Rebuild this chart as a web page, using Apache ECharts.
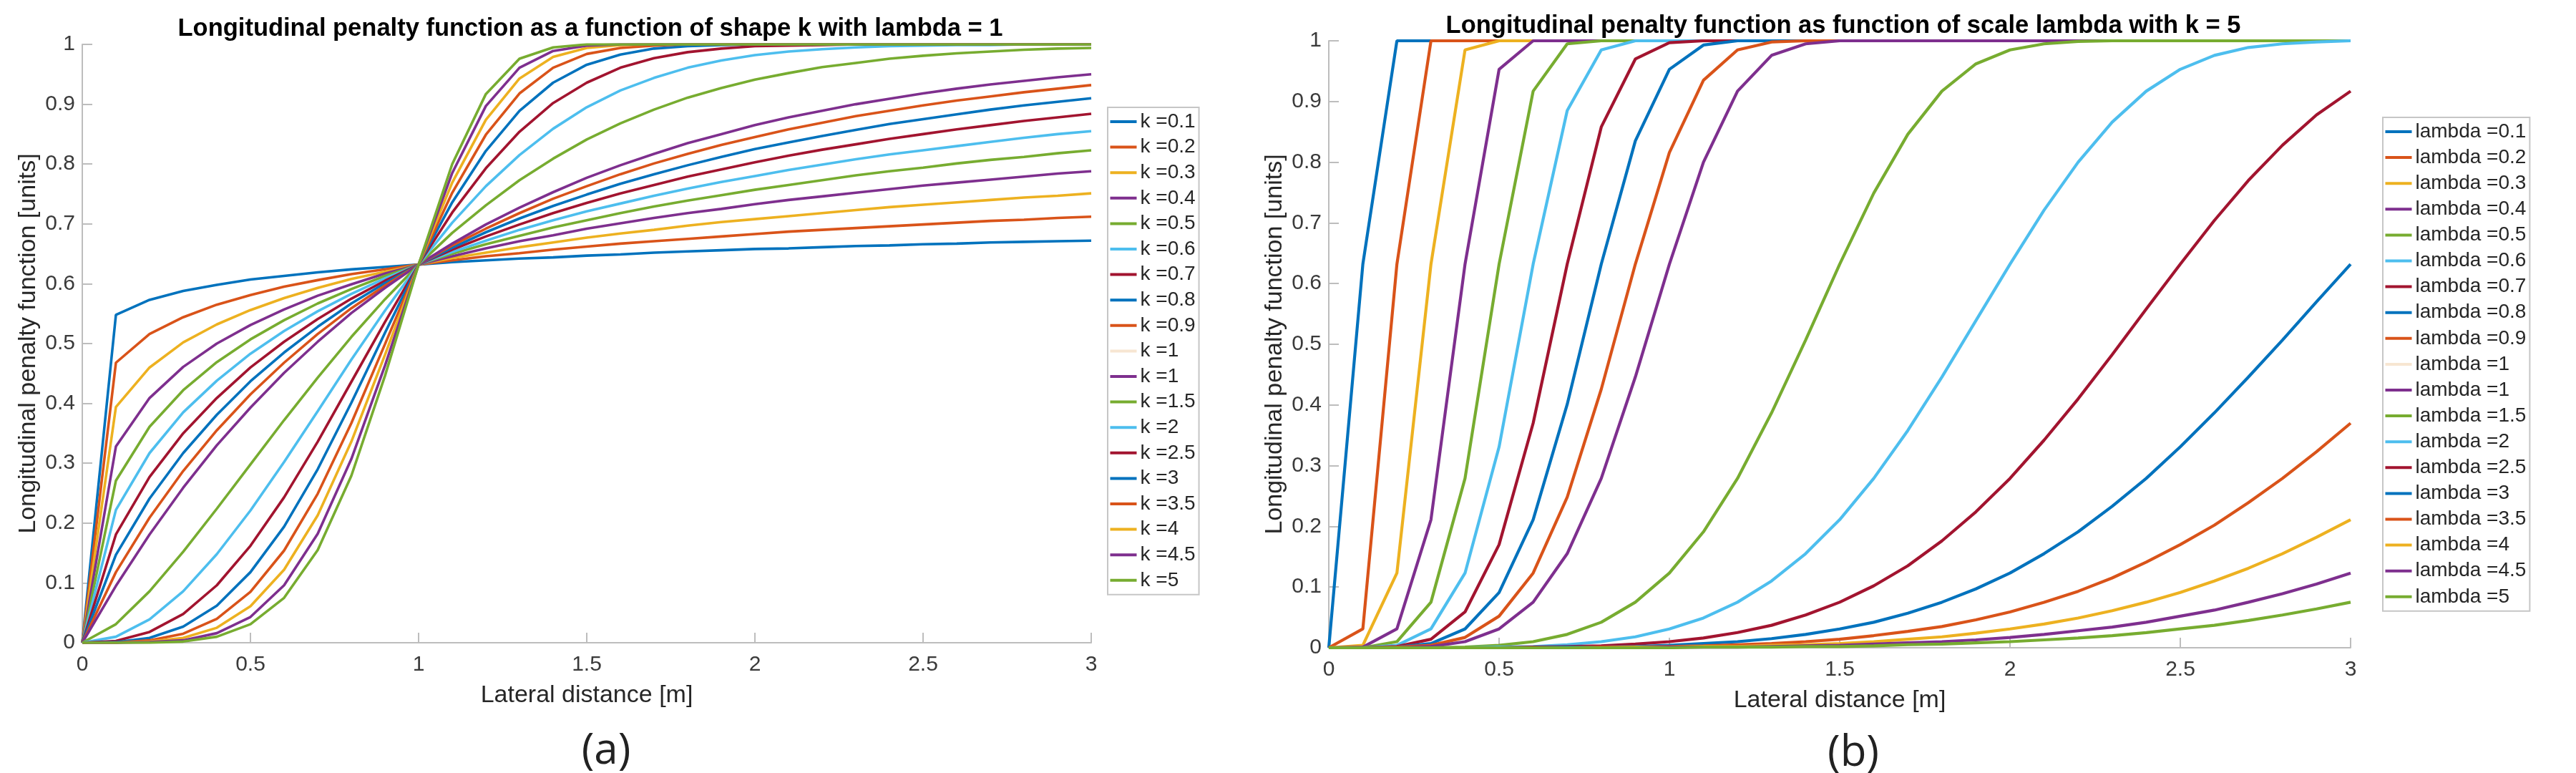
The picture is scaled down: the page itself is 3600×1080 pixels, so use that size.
<!DOCTYPE html>
<html>
<head>
<meta charset="utf-8">
<title>Longitudinal penalty function</title>
<script src="https://cdn.jsdelivr.net/npm/echarts@6/dist/echarts.min.js"></script>
<style>
  html, body { margin: 0; padding: 0; background: #fff; }
  #chart { width: 3600px; height: 1080px; }
</style>
</head>
<body>
<div id="chart"></div>
<script>
// lateral distance samples [m]
var xs = [0, 0.1, 0.2, 0.3, 0.4, 0.5, 0.6, 0.7, 0.8, 0.9, 1.0,
          1.1, 1.2, 1.3, 1.4, 1.5, 1.6, 1.7, 1.8, 1.9, 2.0,
          2.1, 2.2, 2.3, 2.4, 2.5, 2.6, 2.7, 2.8, 2.9, 3.0];

var xTicks = [0, 0.5, 1, 1.5, 2, 2.5, 3];
var yTicks = [0, 0.1, 0.2, 0.3, 0.4, 0.5, 0.6, 0.7, 0.8, 0.9, 1];

// (a) shape k, lambda = 1
var kNames = ['k =0.1', 'k =0.2', 'k =0.3', 'k =0.4', 'k =0.5', 'k =0.6', 'k =0.7', 'k =0.8', 'k =0.9',
              'k =1', 'k =1 ', 'k =1.5', 'k =2', 'k =2.5', 'k =3', 'k =3.5', 'k =4', 'k =4.5', 'k =5'];

var k01 = [0, .548, .573, .588, .598, .607, .613, .619, .624, .628, .632, .636, .639, .642, .644, .647, .649, .652, .654, .656, .658, .659, .661, .663, .664, .666, .667, .669, .670, .671, .672];
var k02 = [0, .468, .516, .544, .565, .581, .595, .606, .616, .624, .632, .639, .646, .651, .657, .662, .667, .671, .675, .679, .683, .687, .690, .693, .696, .699, .702, .705, .707, .710, .712];
var k03 = [0, .394, .460, .502, .532, .556, .576, .593, .608, .620, .632, .643, .652, .661, .669, .677, .684, .690, .697, .703, .708, .713, .718, .723, .728, .732, .736, .740, .744, .747, .751];
var k04 = [0, .328, .409, .461, .500, .531, .557, .580, .599, .617, .632, .646, .659, .671, .681, .692, .701, .710, .718, .725, .733, .740, .746, .752, .758, .764, .769, .774, .779, .784, .788];
var k05 = [0, .271, .361, .422, .469, .507, .539, .567, .591, .613, .632, .650, .666, .680, .694, .706, .718, .729, .739, .748, .757, .765, .773, .781, .788, .794, .801, .807, .812, .818, .823];
var k06 = [0, .222, .317, .385, .438, .483, .521, .554, .583, .609, .632, .653, .672, .690, .706, .721, .734, .747, .759, .770, .780, .790, .799, .808, .816, .823, .830, .837, .844, .850, .855];
var k07 = [0, .181, .277, .350, .409, .460, .503, .541, .575, .605, .632, .657, .679, .699, .718, .735, .751, .765, .779, .791, .803, .814, .824, .833, .842, .850, .858, .865, .872, .878, .884];
var k08 = [0, .147, .241, .317, .381, .437, .485, .528, .567, .601, .632, .660, .686, .709, .730, .749, .767, .783, .798, .812, .825, .836, .847, .857, .867, .875, .883, .891, .898, .904, .910];
var k09 = [0, .118, .209, .287, .355, .415, .468, .516, .559, .597, .632, .664, .692, .718, .742, .763, .783, .801, .817, .832, .845, .858, .869, .880, .889, .898, .906, .913, .920, .926, .932];
var k10 = [0, .095, .181, .259, .330, .393, .451, .503, .551, .593, .632, .667, .699, .727, .753, .777, .798, .817, .835, .850, .865, .878, .889, .900, .909, .918, .926, .933, .939, .945, .950];
var k15 = [0, .031, .086, .152, .224, .298, .372, .443, .511, .574, .632, .685, .731, .773, .809, .841, .868, .891, .911, .927, .941, .952, .962, .969, .976, .981, .985, .988, .991, .993, .994];
var k20 = [0, .010, .039, .086, .148, .221, .302, .387, .473, .555, .632, .702, .763, .815, .859, .895, .923, .944, .961, .973, .982, .988, .992, .995, .997, .998, .999, .999, 1, 1, 1];
var k25 = [0, .003, .018, .048, .096, .162, .243, .336, .436, .536, .632, .719, .793, .854, .902, .936, .961, .977, .987, .993, .997, .998, .999, 1, 1, 1, 1, 1, 1, 1, 1];
var k30 = [0, .001, .008, .027, .062, .118, .194, .290, .401, .518, .632, .736, .822, .889, .936, .966, .983, .993, .997, .999, 1, 1, 1, 1, 1, 1, 1, 1, 1, 1, 1];
var k35 = [0, 0, .004, .015, .040, .085, .154, .249, .367, .499, .632, .752, .849, .918, .961, .984, .994, .998, 1, 1, 1, 1, 1, 1, 1, 1, 1, 1, 1, 1, 1];
var k40 = [0, 0, .002, .008, .025, .061, .122, .213, .336, .481, .632, .769, .874, .943, .979, .994, .999, 1, 1, 1, 1, 1, 1, 1, 1, 1, 1, 1, 1, 1, 1];
var k45 = [0, 0, .001, .004, .016, .043, .096, .182, .307, .463, .632, .785, .897, .961, .989, .998, 1, 1, 1, 1, 1, 1, 1, 1, 1, 1, 1, 1, 1, 1, 1];
var k50 = [0, 0, 0, .002, .010, .031, .075, .155, .279, .446, .632, .800, .917, .976, .995, 1, 1, 1, 1, 1, 1, 1, 1, 1, 1, 1, 1, 1, 1, 1, 1];

// (b) scale lambda, k = 5
var lNames = ['lambda =0.1', 'lambda =0.2', 'lambda =0.3', 'lambda =0.4', 'lambda =0.5', 'lambda =0.6', 'lambda =0.7',
              'lambda =0.8', 'lambda =0.9', 'lambda =1', 'lambda =1 ', 'lambda =1.5', 'lambda =2', 'lambda =2.5',
              'lambda =3', 'lambda =3.5', 'lambda =4', 'lambda =4.5', 'lambda =5'];

var l01 = [0, .632, 1, 1, 1, 1, 1, 1, 1, 1, 1, 1, 1, 1, 1, 1, 1, 1, 1, 1, 1, 1, 1, 1, 1, 1, 1, 1, 1, 1, 1];
var l02 = [0, .031, .632, 1, 1, 1, 1, 1, 1, 1, 1, 1, 1, 1, 1, 1, 1, 1, 1, 1, 1, 1, 1, 1, 1, 1, 1, 1, 1, 1, 1];
var l03 = [0, .004, .123, .632, .985, 1, 1, 1, 1, 1, 1, 1, 1, 1, 1, 1, 1, 1, 1, 1, 1, 1, 1, 1, 1, 1, 1, 1, 1, 1, 1];
var l04 = [0, .001, .031, .211, .632, .953, 1, 1, 1, 1, 1, 1, 1, 1, 1, 1, 1, 1, 1, 1, 1, 1, 1, 1, 1, 1, 1, 1, 1, 1, 1];
var l05 = [0, 0, .010, .075, .279, .632, .917, .995, 1, 1, 1, 1, 1, 1, 1, 1, 1, 1, 1, 1, 1, 1, 1, 1, 1, 1, 1, 1, 1, 1, 1];
var l06 = [0, 0, .004, .031, .123, .331, .632, .885, .985, 1, 1, 1, 1, 1, 1, 1, 1, 1, 1, 1, 1, 1, 1, 1, 1, 1, 1, 1, 1, 1, 1];
var l07 = [0, 0, .002, .014, .059, .170, .370, .632, .858, .970, .997, 1, 1, 1, 1, 1, 1, 1, 1, 1, 1, 1, 1, 1, 1, 1, 1, 1, 1, 1, 1];
var l08 = [0, 0, .001, .007, .031, .091, .211, .401, .632, .835, .953, .993, 1, 1, 1, 1, 1, 1, 1, 1, 1, 1, 1, 1, 1, 1, 1, 1, 1, 1, 1];
var l09 = [0, 0, .001, .004, .017, .052, .123, .248, .426, .632, .816, .935, .985, .998, 1, 1, 1, 1, 1, 1, 1, 1, 1, 1, 1, 1, 1, 1, 1, 1, 1];
var l10 = [0, 0, 0, .002, .010, .031, .075, .155, .279, .446, .632, .800, .917, .976, .995, 1, 1, 1, 1, 1, 1, 1, 1, 1, 1, 1, 1, 1, 1, 1, 1];
var l15 = [0, 0, 0, 0, .001, .004, .010, .022, .042, .075, .123, .191, .279, .387, .507, .632, .749, .846, .917, .962, .985, .995, .999, 1, 1, 1, 1, 1, 1, 1, 1];
var l20 = [0, 0, 0, 0, 0, .001, .002, .005, .010, .018, .031, .049, .075, .110, .155, .211, .279, .358, .446, .539, .632, .721, .800, .866, .917, .953, .976, .989, .995, .998, 1];
var l25 = [0, 0, 0, 0, 0, 0, .001, .002, .003, .006, .010, .016, .025, .037, .054, .075, .102, .135, .176, .224, .279, .342, .410, .483, .558, .632, .704, .770, .828, .878, .917];
var l30 = [0, 0, 0, 0, 0, 0, 0, .001, .001, .002, .004, .007, .010, .015, .022, .031, .042, .057, .075, .097, .123, .155, .191, .233, .279, .331, .387, .446, .507, .570, .632];
var l35 = [0, 0, 0, 0, 0, 0, 0, 0, .001, .001, .002, .003, .005, .007, .010, .014, .020, .027, .035, .046, .059, .075, .093, .115, .141, .170, .202, .239, .279, .323, .370];
var l40 = [0, 0, 0, 0, 0, 0, 0, 0, 0, .001, .001, .002, .002, .004, .005, .007, .010, .014, .018, .024, .031, .039, .049, .061, .075, .091, .110, .131, .155, .182, .211];
var l45 = [0, 0, 0, 0, 0, 0, 0, 0, 0, 0, .001, .001, .001, .002, .003, .004, .006, .008, .010, .013, .017, .022, .028, .034, .042, .052, .062, .075, .089, .105, .123];
var l50 = [0, 0, 0, 0, 0, 0, 0, 0, 0, 0, 0, .001, .001, .001, .002, .002, .003, .005, .006, .008, .010, .013, .016, .020, .025, .031, .037, .045, .054, .064, .075];

// matlab line order; the first "=1" entry was drawn almost white
var lineColors = ['#0072BD', '#D95319', '#EDB120', '#7E2F8E', '#77AC30', '#4DBEEE', '#A2142F', '#0072BD', '#D95319',
                  '#F7E6D2', '#7E2F8E', '#77AC30', '#4DBEEE', '#A2142F', '#0072BD', '#D95319', '#EDB120', '#7E2F8E', '#77AC30'];

var kData = [k01, k02, k03, k04, k05, k06, k07, k08, k09, k10, k10, k15, k20, k25, k30, k35, k40, k45, k50];
var lData = [l01, l02, l03, l04, l05, l06, l07, l08, l09, l10, l10, l15, l20, l25, l30, l35, l40, l45, l50];

var tickColor = '#3a3a3a';
var axisColor = '#bdbdbd';
var font = '"Liberation Sans", Arial, Helvetica, sans-serif';

function makeSeries(names, data, axisIndex, width) {
    var out = [];
    for (var i = 0; i < names.length; i++) {
        var pts = [];
        for (var j = 0; j < xs.length; j++) {
            pts.push([xs[j], data[i][j]]);
        }
        out.push({
            name: names[i],
            type: 'line',
            xAxisIndex: axisIndex,
            yAxisIndex: axisIndex,
            symbol: 'none',
            data: pts,
            color: lineColors[i],
            lineStyle: { width: i == 9 ? 1.5 : width, color: lineColors[i] },
            emphasis: { disabled: true },
            silent: true,
            animation: false
        });
    }
    return out;
}

function makeX(idx) {
    return {
        gridIndex: idx, type: 'value', min: 0, max: 3, interval: 0.5,
        name: 'Lateral distance [m]', nameLocation: 'middle', nameGap: 57,
        nameTextStyle: { fontSize: 34, color: '#262626', fontFamily: font },
        axisLine: { lineStyle: { color: axisColor, width: 2 } },
        axisTick: { inside: true, length: 14, lineStyle: { color: axisColor, width: 2 } },
        axisLabel: { fontSize: 30, color: tickColor, margin: 16, fontFamily: font,
            formatter: function (v) { return xTicks.indexOf(v) >= 0 ? String(v) : ''; } },
        splitLine: { show: false }
    };
}

function makeY(idx) {
    return {
        gridIndex: idx, type: 'value', min: 0, max: 1, interval: 0.1,
        name: 'Longitudinal penalty function [units]', nameLocation: 'middle', nameGap: 58,
        nameTextStyle: { fontSize: 34, color: '#262626', fontFamily: font },
        axisLine: { show: true, lineStyle: { color: axisColor, width: 2 } },
        axisTick: { show: true, inside: true, length: 14, lineStyle: { color: axisColor, width: 2 } },
        axisLabel: { fontSize: 30, color: tickColor, margin: 10, fontFamily: font,
            formatter: function (v) {
                var r = Math.round(v * 10) / 10;
                return yTicks.indexOf(r) >= 0 ? String(r) : '';
            } },
        splitLine: { show: false }
    };
}

// plain line swatch, no marker in the middle
function makeLegend(names, left, top, gap) {
    return {
        data: names, orient: 'vertical', left: left, top: top,
        icon: 'rect', itemWidth: 37, itemHeight: 4, itemGap: gap,
        padding: [6, 5, 6, 3.5],
        backgroundColor: '#fff', borderColor: '#c6c6c6', borderWidth: 2,
        selectedMode: false,
        textStyle: { fontSize: 28, lineHeight: 28, color: '#262626', fontFamily: font }
    };
}

var chart = echarts.init(document.getElementById('chart'), null, { renderer: 'canvas' });

var option = {
    animation: false,
    backgroundColor: '#fff',
    textStyle: { fontFamily: font },
    title: [
        { text: 'Longitudinal penalty function as a function of shape k with lambda = 1',
          left: 820, top: 18, textAlign: 'center',
          textStyle: { fontSize: 34.5, fontWeight: 'bold', color: '#000', fontFamily: font } },
        { text: 'Longitudinal penalty function as function of scale lambda with k = 5',
          left: 2571, top: 14, textAlign: 'center',
          textStyle: { fontSize: 34.5, fontWeight: 'bold', color: '#000', fontFamily: font } },
        { text: '(a)', left: 842, top: 1015, textAlign: 'center',
          textStyle: { fontSize: 60, fontWeight: 'normal', color: '#222', fontFamily: '"Open Sans", sans-serif' } },
        { text: '(b)', left: 2585, top: 1018, textAlign: 'center',
          textStyle: { fontSize: 60, fontWeight: 'normal', color: '#222', fontFamily: '"Open Sans", sans-serif' } }
    ],
    grid: [
        { left: 115, top: 62, width: 1410, height: 836 },
        { left: 1857, top: 57, width: 1428, height: 848 }
    ],
    xAxis: [makeX(0), makeX(1)],
    yAxis: [makeY(0), makeY(1)],
    legend: [
        makeLegend(kNames, 1548, 150, 7.6),
        makeLegend(lNames, 3330, 164, 8.1)
    ],
    series: makeSeries(kNames, kData, 0, 3.6).concat(makeSeries(lNames, lData, 1, 4.2))
};

chart.setOption(option);
</script>
</body>
</html>
